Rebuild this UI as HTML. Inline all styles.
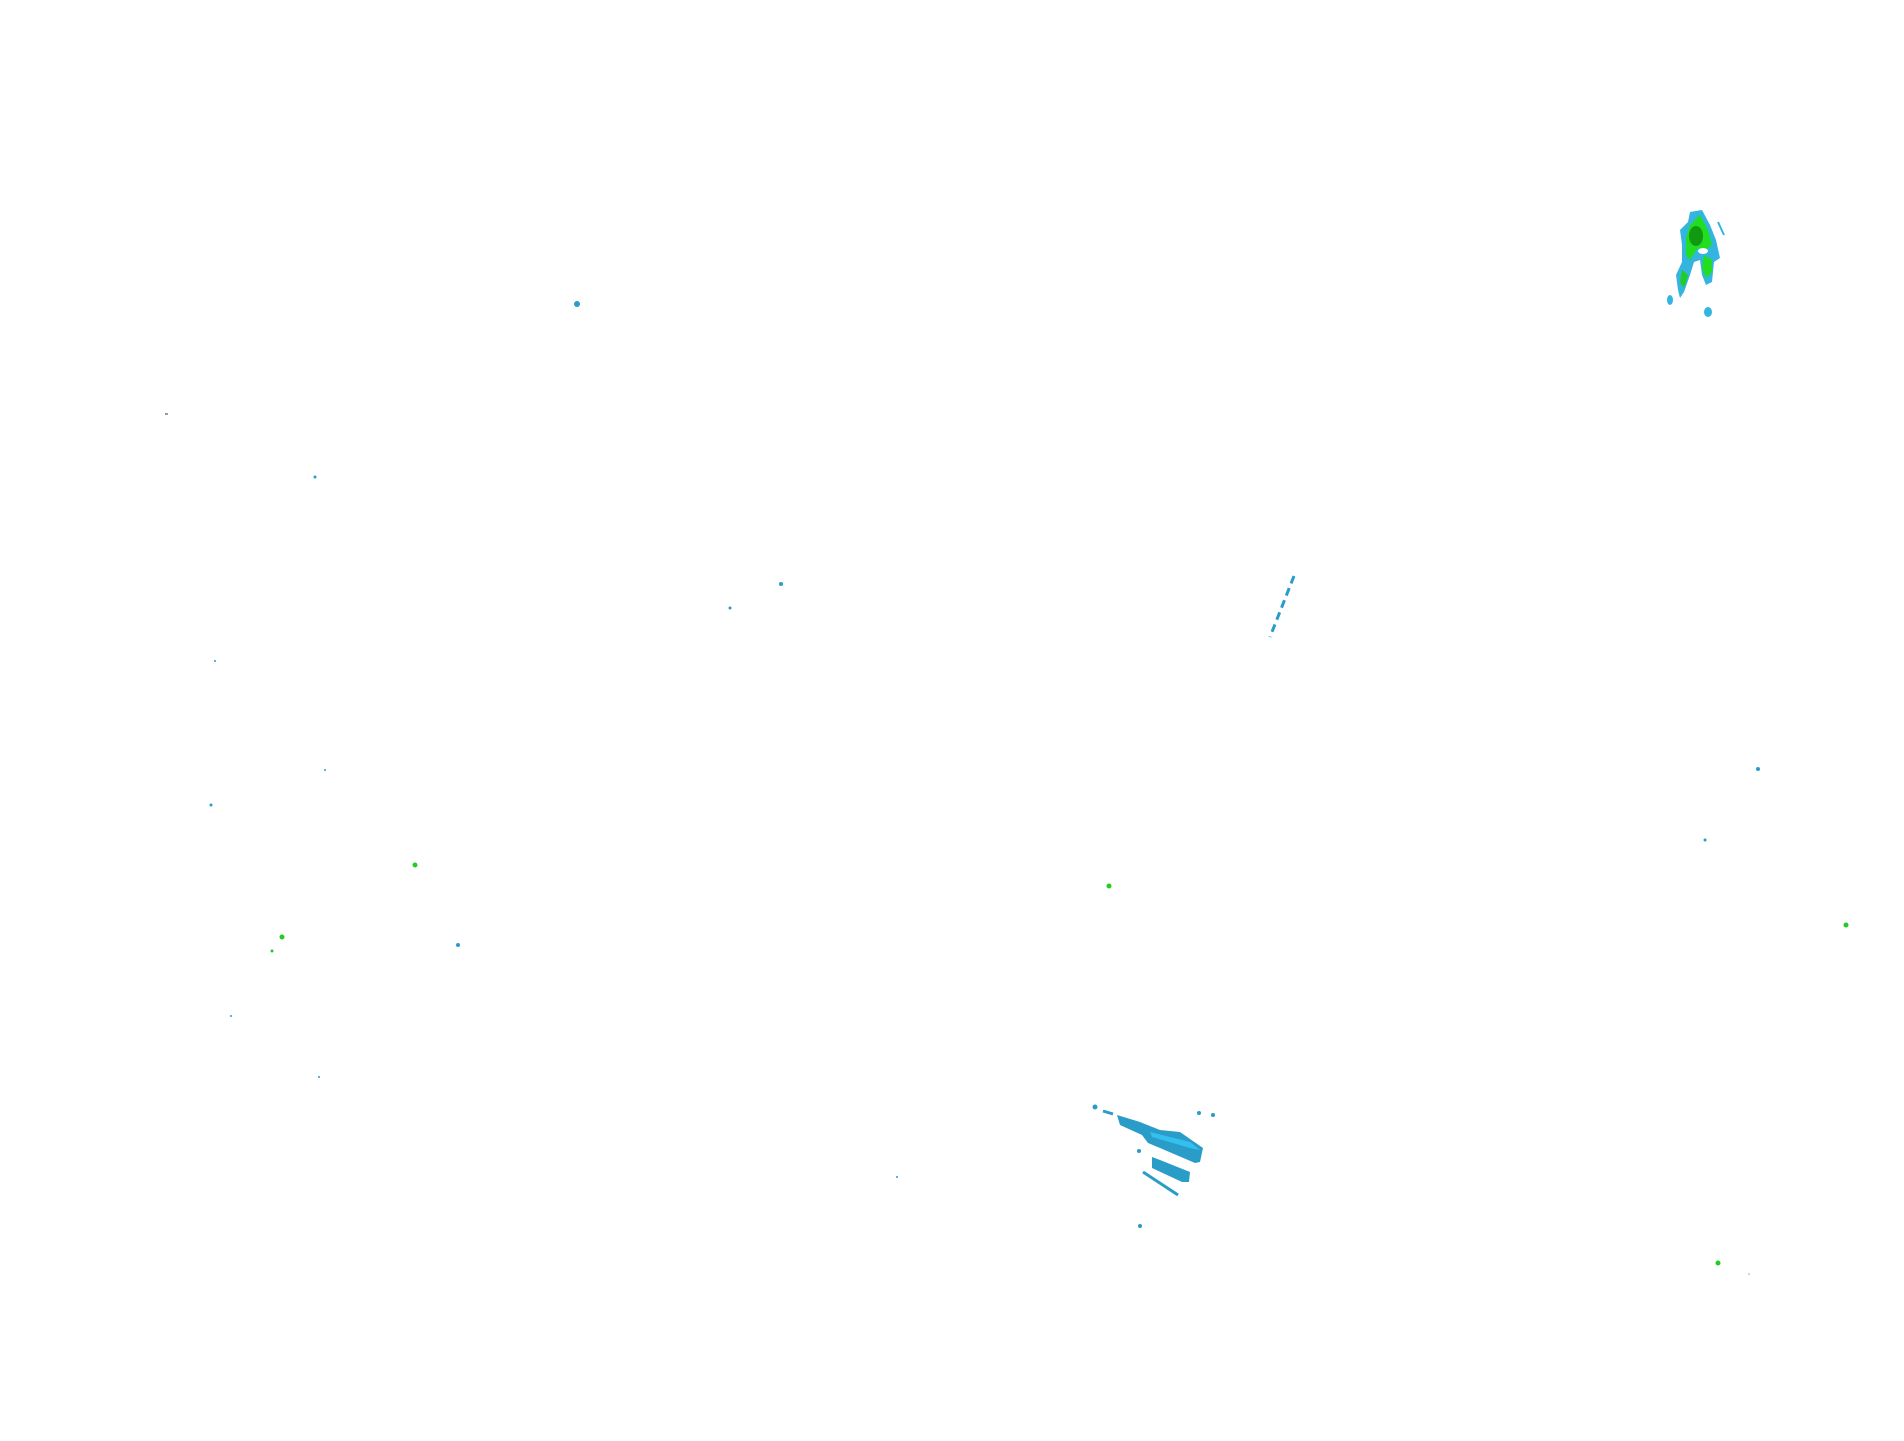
<!DOCTYPE html>
<html><head><meta charset="utf-8"><style>html,body{margin:0;padding:0;background:#fff;}svg{display:block}</style></head>
<body>
<svg width="1904" height="1441" viewBox="0 0 1904 1441" xmlns="http://www.w3.org/2000/svg">
<rect width="1904" height="1441" fill="#fff"/>
<!-- top right cluster -->
<polygon fill="#33b5e0" points="1690,212 1702,210 1710,225 1716,240 1720,258 1714,262 1712,282 1706,285 1702,275 1700,260 1694,262 1690,275 1684,292 1680,298 1678,290 1676,275 1682,262 1682,245 1680,230 1688,222"/>
<polygon fill="#22dd22" points="1690,225 1700,215 1708,230 1712,245 1706,250 1698,248 1690,260 1686,255 1686,238"/>
<polygon fill="#22dd22" points="1704,255 1712,260 1712,272 1706,278 1702,268"/>
<polygon fill="#22cc22" points="1682,270 1688,275 1684,288 1680,282"/>
<ellipse cx="1696" cy="236" rx="7" ry="10" fill="#119911"/>
<ellipse cx="1703" cy="251" rx="5" ry="3" fill="#fff"/>
<ellipse cx="1670" cy="300" rx="3" ry="5" fill="#33b5e0"/>
<ellipse cx="1708" cy="312" rx="4" ry="5" fill="#33b5e0"/>
<line x1="1718" y1="222" x2="1724" y2="235" stroke="#33b5e0" stroke-width="2"/>
<!-- bottom streaks -->
<polygon fill="#2a9cc8" points="1117,1115 1140,1122 1160,1130 1180,1132 1203,1148 1200,1162 1195,1163 1160,1148 1148,1143 1142,1135 1120,1125"/>
<polygon fill="#33c0ee" points="1150,1132 1190,1142 1200,1150 1190,1148 1152,1137"/>
<polygon fill="#2a9cc8" points="1152,1157 1160,1160 1190,1172 1189,1182 1182,1182 1152,1168"/>
<line x1="1143" y1="1172" x2="1178" y2="1195" stroke="#2a9cc8" stroke-width="3"/>
<circle cx="1095" cy="1107" r="2.5" fill="#2a9cc8"/>
<line x1="1103" y1="1111" x2="1113" y2="1114" stroke="#2a9cc8" stroke-width="3"/>
<circle cx="1140" cy="1226" r="2" fill="#2a9cc8"/>
<circle cx="1199" cy="1113" r="2" fill="#2a9cc8"/>
<circle cx="1213" cy="1115" r="2" fill="#2a9cc8"/>
<circle cx="1139" cy="1151" r="2" fill="#2a9cc8"/>
<!-- diagonal dashed streak -->
<line x1="1294" y1="576" x2="1270" y2="637" stroke="#2a9cc8" stroke-width="3" stroke-dasharray="8,5"/>
<!-- scattered dots -->
<g fill="#2a9cc8">
<circle cx="577" cy="304" r="3"/>
<circle cx="315" cy="477" r="1.5"/>
<circle cx="781" cy="584" r="2"/>
<circle cx="730" cy="608" r="1.5"/>
<circle cx="215" cy="661" r="1"/>
<circle cx="325" cy="770" r="1"/>
<circle cx="211" cy="805" r="1.5"/>
<circle cx="458" cy="945" r="2"/>
<circle cx="231" cy="1016" r="1"/>
<circle cx="319" cy="1077" r="1"/>
<circle cx="897" cy="1177" r="1"/>
<circle cx="1758" cy="769" r="2"/>
<circle cx="1705" cy="840" r="1.5"/>
</g>
<g fill="#22cc22">
<circle cx="415" cy="865" r="2.5"/>
<circle cx="1109" cy="886" r="2.5"/>
<circle cx="282" cy="937" r="2.5"/>
<circle cx="272" cy="951" r="1.5"/>
<circle cx="1846" cy="925" r="2.5"/>
<circle cx="1718" cy="1263" r="2.5"/>
</g>
<circle cx="1749" cy="1274" r="0.8" fill="#999"/>
<line x1="165" y1="414" x2="168" y2="414" stroke="#333" stroke-width="1"/>
</svg>
</body></html>
